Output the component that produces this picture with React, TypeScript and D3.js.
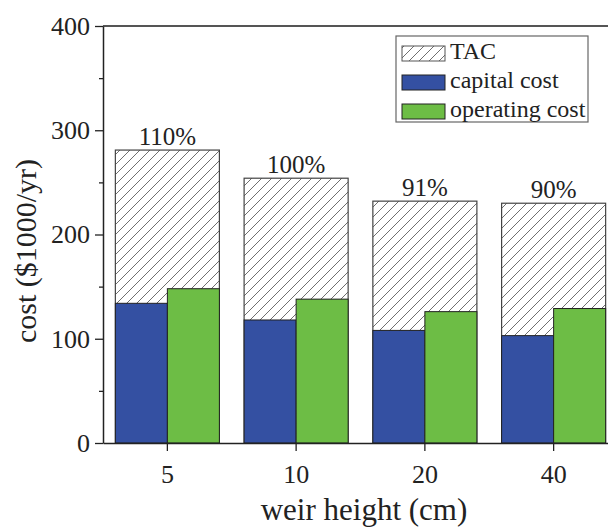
import React, {useEffect, useRef} from 'react';
import * as d3 from "d3";

const weirHeights = ["5", "10", "20", "40"];
const tacCost = [281, 254, 232, 230];
const capitalCost = [134, 118, 108, 103];
const operatingCost = [148, 138, 126, 129];
const percentLabels = ["110%", "100%", "91%", "90%"];
const yMajorTicks = [0, 100, 200, 300, 400];
const yMinorTicks = [50, 150, 250, 350];
const legendLabels = ["TAC", "capital cost", "operating cost"];

const FONT = "'Liberation Serif', 'Times New Roman', serif";
const BLUE = "#3450a2";
const GREEN = "#6dbd45";

function App(){

    const ref = useRef<SVGSVGElement>(null)

    const width = 608;
    const height = 530;
    const left = 103, right = 618, top = 26, bottom = 443;

    useEffect(() => {
        d3.select(ref.current).selectAll("svg > *").remove()
        draw()
    }, [])

    function draw(){
        const svg = d3.select(ref.current)
        .attr("width", width)
        .attr("height", height)

        // hatch pattern for TAC
        const pattern = svg.append("defs").append("pattern")
        .attr("id", "hatch")
        .attr("patternUnits", "userSpaceOnUse")
        .attr("width", 10)
        .attr("height", 10)
        pattern.append("path")
        .attr("d", "M-1,1 L1,-1 M0,10 L10,0 M9,11 L11,9")
        .attr("stroke", "#6f6f6f")
        .attr("stroke-width", 1)

        const x = d3.scaleBand()
        .domain(weirHeights)
        .range([left, right])
        .paddingInner(0.192)
        .paddingOuter(0.096)

        const y = d3.scaleLinear()
        .domain([0, 400])
        .range([bottom, top])

        const half = x.bandwidth() / 2

        // TAC bars (hatched)
        svg.append("g").selectAll("rect")
        .data(tacCost)
        .enter()
        .append("rect")
        .attr("x", (d, i) => x(weirHeights[i])!)
        .attr("y", d => y(d))
        .attr("width", x.bandwidth())
        .attr("height", d => bottom - y(d))
        .attr("fill", "url(#hatch)")
        .attr("stroke", "#444")
        .attr("stroke-width", 1.2)

        // capital cost
        svg.append("g").selectAll("rect")
        .data(capitalCost)
        .enter()
        .append("rect")
        .attr("x", (d, i) => x(weirHeights[i])!)
        .attr("y", d => y(d))
        .attr("width", half)
        .attr("height", d => bottom - y(d))
        .attr("fill", BLUE)
        .attr("stroke", "#222")
        .attr("stroke-width", 1)

        // operating cost
        svg.append("g").selectAll("rect")
        .data(operatingCost)
        .enter()
        .append("rect")
        .attr("x", (d, i) => x(weirHeights[i])! + half)
        .attr("y", d => y(d))
        .attr("width", half)
        .attr("height", d => bottom - y(d))
        .attr("fill", GREEN)
        .attr("stroke", "#222")
        .attr("stroke-width", 1)

        // percent labels
        svg.append("g").selectAll("text")
        .data(percentLabels)
        .enter()
        .append("text")
        .attr("x", (d, i) => x(weirHeights[i])! + half)
        .attr("y", (d, i) => y(tacCost[i]) - 5)
        .attr("text-anchor", "middle")
        .style("font-family", FONT)
        .style("font-size", "25px")
        .attr("fill", "#222")
        .text(d => d)

        // top frame line
        svg.append("line")
        .attr("x1", left).attr("x2", right)
        .attr("y1", top).attr("y2", top)
        .attr("stroke", "#555")
        .attr("stroke-width", 2)

        // y axis
        const yAxis = svg.append("g")
        .attr("transform", `translate(${left},0)`)
        .call(d3.axisLeft(y).tickValues(yMajorTicks).tickSize(8).tickPadding(5).tickSizeOuter(0))
        yAxis.select(".domain").attr("stroke", "#222").attr("stroke-width", 1.5)
        yAxis.selectAll(".tick line").attr("stroke", "#222").attr("stroke-width", 1.3)
        yAxis.selectAll("text")
        .style("font-family", FONT)
        .style("font-size", "26px")
        .attr("fill", "#222")

        const yMinor = svg.append("g")
        .attr("transform", `translate(${left},0)`)
        .call(d3.axisLeft(y).tickValues(yMinorTicks).tickSize(4).tickFormat(() => ""))
        yMinor.select(".domain").remove()
        yMinor.selectAll(".tick line").attr("stroke", "#222").attr("stroke-width", 1.3)

        // x axis
        const xAxis = svg.append("g")
        .attr("transform", `translate(0,${bottom})`)
        .call(d3.axisBottom(x).tickSize(8).tickSizeOuter(0))
        xAxis.select(".domain").attr("stroke", "#222").attr("stroke-width", 1.5)
        xAxis.selectAll(".tick line").attr("stroke", "#222").attr("stroke-width", 1.3)
        xAxis.selectAll("text")
        .attr("y", 22)
        .style("font-family", FONT)
        .style("font-size", "26px")
        .attr("fill", "#222")

        // axis titles
        svg.append("text")
        .attr("transform", `translate(36, 251) rotate(-90)`)
        .attr("text-anchor", "middle")
        .style("font-family", FONT)
        .style("font-size", "30px")
        .attr("fill", "#222")
        .text("cost ($1000/yr)")

        svg.append("text")
        .attr("x", 364)
        .attr("y", 520)
        .attr("text-anchor", "middle")
        .style("font-family", FONT)
        .style("font-size", "31px")
        .attr("fill", "#222")
        .text("weir height (cm)")

        // legend
        const legend = svg.append("g")
        legend.append("rect")
        .attr("x", 396).attr("y", 36)
        .attr("width", 192).attr("height", 86)
        .attr("fill", "white")
        .attr("stroke", "#666")
        .attr("stroke-width", 1.2)

        const fills = ["url(#hatch)", BLUE, GREEN]
        legendLabels.forEach((label, i) => {
            legend.append("rect")
            .attr("x", 402).attr("y", 46 + i * 29)
            .attr("width", 43).attr("height", 15)
            .attr("fill", fills[i])
            .attr("stroke", i === 0 ? "#555" : "#222")
            .attr("stroke-width", 1)
            legend.append("text")
            .attr("x", 450).attr("y", 59 + i * 29)
            .style("font-family", FONT)
            .style("font-size", "24px")
            .attr("fill", "#222")
            .text(label)
        })
    }

    return(
        <svg ref={ref} style={{position: "absolute", left: 0, top: 0}}></svg>
    )
}

export default App;
